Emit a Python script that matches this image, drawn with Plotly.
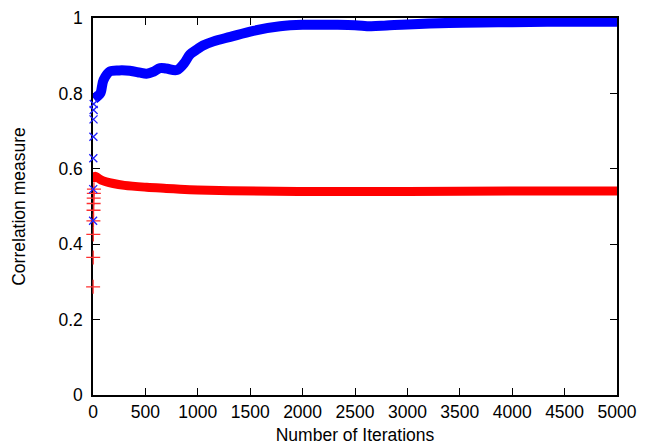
import plotly.graph_objects as go

# Blue series (band) - read at sample iterations
blue_iter = [10, 40, 70, 100, 160, 250, 350, 450, 510, 580, 640, 700, 800, 870, 925, 1000, 1050, 1150, 1310, 1530, 1785, 2000, 2300, 2500, 2650, 2800, 3000, 3400, 4000, 4500, 5000]
blue_val = [0.785, 0.792, 0.80, 0.835, 0.858, 0.861, 0.860, 0.855, 0.852, 0.858, 0.867, 0.866, 0.862, 0.880, 0.903, 0.918, 0.927, 0.938, 0.950, 0.966, 0.978, 0.982, 0.982, 0.981, 0.978, 0.980, 0.983, 0.987, 0.989, 0.990, 0.990]
# Blue early scattered points
blue_early_iter = [1, 2, 3, 4, 5, 6, 7]
blue_early_val = [0.462, 0.546, 0.628, 0.685, 0.731, 0.756, 0.772]

# Red series (band)
red_iter = [10, 20, 40, 80, 194, 300, 512, 700, 830, 1000, 1307, 2000, 3000, 4000, 5000]
red_val = [0.565, 0.580, 0.577, 0.570, 0.561, 0.556, 0.551, 0.548, 0.546, 0.544, 0.542, 0.540, 0.540, 0.541, 0.541]
red_early_iter = [1, 2, 3, 4, 5, 6, 7, 8, 9]
red_early_val = [0.287, 0.365, 0.426, 0.462, 0.490, 0.508, 0.522, 0.535, 0.546]

x_ticks = [0, 500, 1000, 1500, 2000, 2500, 3000, 3500, 4000, 4500, 5000]
y_ticks = [0, 0.2, 0.4, 0.6, 0.8, 1]
y_tick_text = ["0", "0.2", "0.4", "0.6", "0.8", "1"]

RED = "#ff0000"
BLUE = "#0000ff"

fig = go.Figure()
fig.add_trace(go.Scatter(x=red_iter, y=red_val, mode="lines",
                         line=dict(color=RED, width=9, shape="spline"), showlegend=False))
fig.add_trace(go.Scatter(x=red_early_iter, y=red_early_val, mode="markers",
                         marker=dict(symbol="cross-thin", size=10, line=dict(color="#ff3030", width=1.3)),
                         showlegend=False, cliponaxis=False))
fig.add_trace(go.Scatter(x=blue_iter, y=blue_val, mode="lines",
                         line=dict(color=BLUE, width=10, shape="spline"), showlegend=False))
fig.add_trace(go.Scatter(x=blue_early_iter, y=blue_early_val, mode="markers",
                         marker=dict(symbol="x-thin", size=8, line=dict(color="#2020ff", width=1.3)),
                         showlegend=False, cliponaxis=False))

font = dict(family="Liberation Sans, Arial, sans-serif", size=17.5, color="black")
# page body has an 8px margin, so the figure is 8px smaller and offset
fig.update_layout(
    width=643, height=437,
    margin=dict(l=85, r=34, t=10, b=50, autoexpand=False),
    paper_bgcolor="white", plot_bgcolor="white",
    font=font,
    xaxis=dict(range=[0, 5000], tickvals=x_ticks, ticks="inside", ticklen=7,
               tickcolor="black", showline=True, linecolor="black", linewidth=1.5,
               mirror="ticks", showgrid=False, zeroline=False, automargin=False,
               tickfont=font, layer="below traces",
               title=dict(text="Number of Iterations", standoff=18, font=font)),
    yaxis=dict(range=[0, 1], tickvals=y_ticks, ticktext=y_tick_text, ticks="inside",
               ticklen=7, tickcolor="black", showline=True, linecolor="black",
               linewidth=1.5, mirror="ticks", showgrid=False, zeroline=False,
               automargin=False, tickfont=font, layer="below traces",
               ticklabelstandoff=5,
               title=dict(text="Correlation measure", standoff=28, font=font)),
)
fig.write_html("out.html")
